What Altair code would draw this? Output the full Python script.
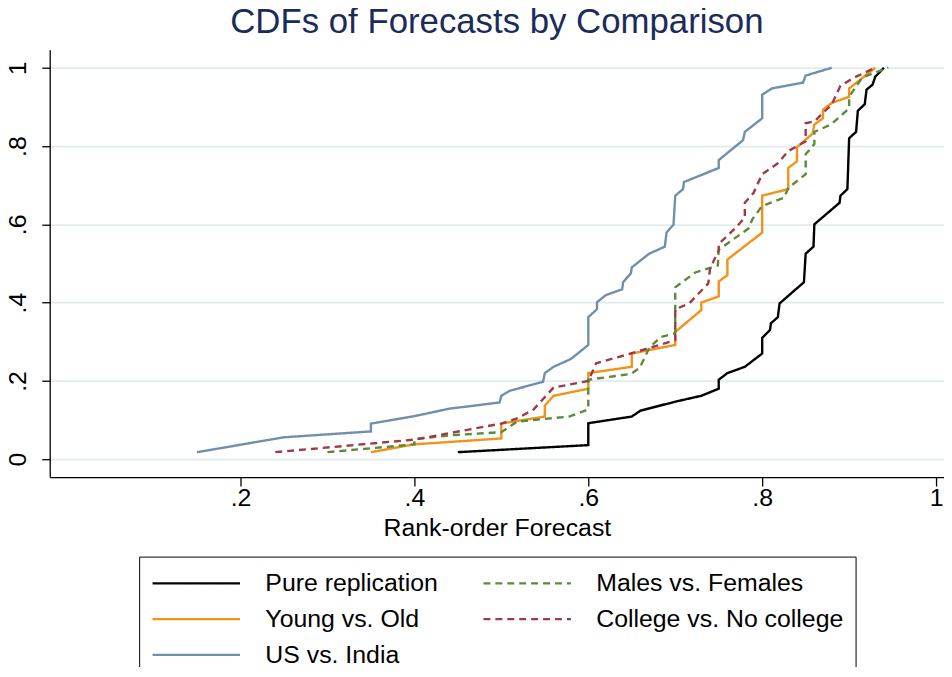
import altair as alt
import pandas as pd

# ---- data (x = rank-order forecast, y = cumulative share) ----
pure_x = [.45, .60, .60, .65, .66, .70, .73, .75, .75, .76, .78, .80, .80, .809, .81, .818, .82, .848, .85, .859,
          .86, .889, .89, .898, .90, .908, .91, .918, .92, .927, .93, .94]
pure_y = [.018, .036, .092, .109, .124, .147, .162, .18, .203, .22, .236, .27, .31, .33, .347, .363, .398, .452, .525, .543,
          .60, .655, .673, .69, .82, .836, .89, .907, .944, .957, .977, 1.0]

young_x = [.35, .40, .50, .50, .55, .55, .56, .60, .60, .65, .65, .70, .70, .73, .73, .75, .75, .76, .76, .80,
           .80, .83, .83, .84, .84, .858, .86, .87, .87, .88, .90, .90, .93]
young_y = [.018, .038, .053, .091, .109, .137, .162, .18, .22, .236, .27, .292, .325, .381, .40, .416, .454, .47, .51, .579,
           .673, .69, .744, .761, .797, .832, .855, .871, .893, .91, .926, .947, 1.0]

india_x = [.15, .25, .35, .35, .40, .44, .498, .50, .51, .548, .55, .56, .58, .60, .60, .61, .61, .62, .639, .64,
           .649, .65, .67, .688, .69, .698, .70, .709, .71, .75, .75, .778, .78, .80, .80, .811, .847, .85, .88]
india_y = [.018, .056, .071, .091, .11, .129, .145, .162, .175, .198, .22, .236, .256, .292, .363, .383, .401, .419, .434, .452,
           .475, .49, .525, .543, .579, .599, .673, .69, .708, .744, .764, .815, .836, .871, .931, .947, .962, .98, 1.0]

males_x = [.30, .40, .40, .44, .50, .518, .578, .594, .60, .60, .649, .659, .67, .683, .70, .70, .723, .749, .75, .784,
           .789, .80, .825, .83, .85, .85, .86, .86, .879, .90, .90, .915, .945]
males_y = [.018, .038, .051, .061, .069, .096, .109, .122, .127, .203, .218, .233, .284, .312, .322, .439, .477, .495, .535, .589,
           .614, .647, .668, .693, .728, .779, .805, .836, .855, .896, .926, .975, 1.0]

college_x = [.24, .40, .50, .518, .537, .56, .60, .609, .649, .70, .70, .716, .738, .74, .75, .75, .769, .78, .78, .79,
             .80, .818, .83, .85, .85, .86, .88, .89, .906, .93]
college_y = [.018, .05, .091, .104, .127, .183, .20, .245, .27, .304, .383, .398, .449, .487, .533, .55, .59, .617, .655, .68,
             .728, .756, .787, .812, .858, .863, .906, .954, .975, 1.0]

# legend is filled column by column: first column, then second column
series_names = ["Pure replication", "Young vs. Old", "US vs. India", "Males vs. Females", "College vs. No college"]
series_data = [(pure_x, pure_y), (young_x, young_y), (india_x, india_y), (males_x, males_y), (college_x, college_y)]
series_colors = ["#000000", "#f39119", "#6f8fac", "#5b8a3a", "#9e3a48"]
series_dashes = [[1, 0], [1, 0], [1, 0], [7, 5], [7, 5]]

x_ticks = [.2, .4, .6, .8, 1]
y_ticks = [0, .2, .4, .6, .8, 1]

rows = []
for name, (xs, ys) in zip(series_names, series_data):
    for i, (xv, yv) in enumerate(zip(xs, ys)):
        rows.append({"series": name, "x": xv, "y": yv, "i": i})
df = pd.DataFrame(rows)

FONT = "Liberation Sans"
lab_expr = "datum.value == 0 ? '0' : datum.value == 1 ? '1' : replace(format(datum.value, '.1f'), '0.', '.')"

legend = alt.Legend(
    title=None, orient="none", legendX=90, legendY=510, columns=2,
    symbolType="stroke", symbolSize=7744, symbolStrokeWidth=2.2, clipHeight=30,
    labelFont=FONT, labelFontSize=25, labelColor="black", labelOffset=24, labelLimit=400,
    columnPadding=44, rowPadding=6, padding=12,
    strokeColor="black", fillColor="white",
)

chart = alt.Chart(df).mark_line(strokeWidth=2.4, strokeCap="butt", strokeJoin="miter").encode(
    x=alt.X("x:Q",
            scale=alt.Scale(domain=[-0.0194, 1.0091], nice=False, zero=False),
            axis=alt.Axis(values=x_ticks, title="Rank-order Forecast", labelExpr=lab_expr, grid=False,
                          tickSize=9, labelPadding=20, labelBaseline="alphabetic",
                          titleBaseline="alphabetic", titleY=59)),
    y=alt.Y("y:Q",
            scale=alt.Scale(domain=[-0.0457, 1.0457], nice=False, zero=False),
            axis=alt.Axis(values=y_ticks, title=None, labelExpr=lab_expr, grid=True,
                          gridColor="#e2ecec", gridWidth=1.8,
                          tickSize=8, labelPadding=16, labelAngle=270,
                          labelAlign="center", labelBaseline="alphabetic")),
    color=alt.Color("series:N", scale=alt.Scale(domain=series_names, range=series_colors), legend=legend),
    strokeDash=alt.StrokeDash("series:N", scale=alt.Scale(domain=series_names, range=series_dashes), legend=legend),
    order=alt.Order("i:Q"),
).properties(
    width=900, height=430,
    background="white",
    autosize=alt.AutoSizeParams(type="none"),
    padding={"left": 42, "top": 40, "right": 0, "bottom": 189},
    title=alt.TitleParams("CDFs of Forecasts by Comparison", font=FONT, fontSize=35, fontWeight="normal",
                          color="#1c2c5a", anchor="middle", offset=10),
).configure_view(stroke=None).configure_axis(
    domainColor="black", domainWidth=1.3, tickColor="black", tickWidth=1.3,
    labelFont=FONT, labelFontSize=25, labelColor="black",
    titleFont=FONT, titleFontSize=25, titleFontWeight="normal", titleColor="black",
)

chart.save("out.html", embed_options={"renderer": "svg", "actions": False})
